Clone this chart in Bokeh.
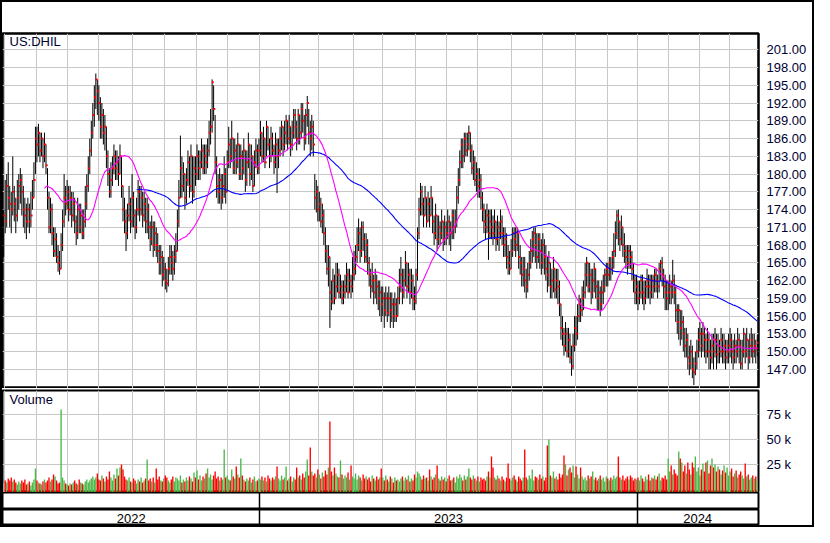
import numpy as np
import pandas as pd
from bokeh.plotting import figure
from bokeh.layouts import column
from bokeh.models import Range1d, FixedTicker, NumeralTickFormatter, Label, ColumnDataSource
from bokeh.core.properties import value
from bokeh.embed import file_html
from bokeh.resources import INLINE

# ---------------- data ----------------
title_line1 = "Historic Chart for US:DHIL by Stockwatch.com 604.687.1500 - (c) 2024"
title_line2 = ("Fri Apr 26 2024   Op=150.40   Hi=152.79   Lo=149.20   Cl=151.49   "
               "Vol=8,322   Year hi=197.00   lo=144.345")
symbol = "US:DHIL"

# trading days per month, Apr 2022 (last day) .. Apr 2024
bars_per_month = [1, 21, 21, 20, 23, 21, 21, 21, 21,
                  20, 19, 23, 19, 22, 21, 20, 23, 20, 22, 21, 20,
                  21, 20, 20, 19]
year_labels = ["2022", "2023", "2024"]

price_ticks = [147, 150, 153, 156, 159, 162, 165, 168, 171, 174, 177, 180, 183,
               186, 189, 192, 195, 198, 201]
vol_ticks = [25000, 50000, 75000]
vol_tick_labels = ["25 k", "50 k", "75 k"]

close_2022 = [
    173, 172, 178, 176, 175, 174, 177, 175, 173, 176,
    178, 179, 177, 174, 173, 172, 174, 172, 173, 176,
    179, 186, 185, 187, 184, 186, 183, 185, 181.5, 176,
    171, 174, 170, 167, 169, 166, 165, 164, 168, 172,
    176, 175, 177, 174, 176, 173, 175, 172, 170, 174,
    171, 173, 170, 172, 175, 178, 181, 184, 187, 190,
    193, 196, 194, 192, 188, 190, 187, 188, 183, 180,
    177, 179, 181, 183, 181, 182, 180, 183, 178, 174,
    172, 170, 173, 175, 172, 176, 173, 171, 174, 177,
    174, 176, 173, 175, 172, 174, 171, 169, 171, 168,
    170, 168, 167, 165, 166, 163, 164, 162, 161.5, 164,
    166, 165, 164, 166, 167, 172, 176, 181, 178, 180,
    176, 179, 182, 178, 183, 177, 181, 180, 183, 181,
    182, 184, 181, 183, 182, 184, 187, 188, 195.5, 191,
    182, 178, 177, 179, 176, 178, 180, 177, 182, 185,
    183, 186, 181, 184, 182, 185, 180, 183, 181, 184,
    179, 182, 185, 180, 183, 178, 182, 184, 181, 184]
hi_2022 = [
    174, 179, 180, 182, 178, 177, 183, 178, 176, 179,
    180, 181, 180, 178, 176, 175, 176, 175, 177, 179,
    182, 188, 188, 188.5, 187, 187, 186, 187, 185, 181,
    177, 176, 175, 171, 171, 170, 168, 167, 170, 174,
    180, 178, 179, 178, 178, 177, 177, 176, 173, 176,
    175, 175, 174, 174, 178, 180, 183, 186, 189, 192,
    195, 197, 196, 195, 193, 192, 191, 190, 188, 184,
    181, 182, 183, 185, 184, 184, 183, 185, 183, 178,
    176, 174, 175, 178, 176, 180, 177, 174, 176, 179,
    178, 178, 177, 177, 176, 176, 175, 172, 173, 172,
    172, 171, 170, 168, 168, 167, 166, 165, 164, 166,
    168, 168, 167, 168, 170, 174, 179, 186.5, 183, 182,
    180, 181, 184, 183, 185, 183, 183, 183, 185, 184,
    184, 186, 185, 185, 185, 186, 189, 191, 196, 195,
    190, 183, 180, 181, 180, 180, 183, 181, 184, 188,
    186, 189, 186, 186, 185, 187, 185, 185, 184, 186,
    184, 184, 187, 185, 185, 183, 184, 186, 185, 186]
lo_2022 = [
    166, 170, 171, 174, 171, 170, 173, 172, 170, 172,
    174, 175, 173, 171, 170, 169, 171, 170, 171, 174,
    176, 180, 182, 183, 182, 183, 181, 182, 180, 174,
    170, 170, 168, 166, 166, 165, 163.5, 163, 164, 167,
    171, 173, 174, 172, 173, 171, 172, 170, 168, 169,
    170, 170, 169, 169, 171, 174, 177, 180, 183, 186,
    188, 191, 190, 189, 186, 186, 185, 184, 181, 178,
    176, 176, 178, 180, 179, 179, 178, 180, 176, 172,
    170, 167, 169, 172, 170, 171, 171, 169, 170, 173,
    172, 173, 171, 172, 170, 170, 169, 167, 168, 166,
    167, 166, 165, 163, 163, 161, 162, 160.5, 160, 161,
    163, 163, 162, 163, 165, 167, 171, 176, 176, 177,
    174, 175, 178, 176, 177, 175, 176, 178, 179, 179,
    179, 181, 180, 180, 180, 181, 183, 185, 187, 189,
    180, 176, 175, 175, 174, 175, 176, 175, 177, 181,
    181, 182, 180, 180, 180, 181, 179, 179, 179, 180,
    177, 178, 181, 178, 179, 177, 178, 181, 180, 180]

close_2023 = [
    187, 183, 186, 182, 188, 185, 183, 186, 184, 182,
    185, 183, 184, 186, 188, 185, 187, 189, 186, 188,
    185, 187, 190, 188, 186, 190, 187, 191, 189, 186,
    190, 192, 187, 186, 188, 185, 176, 177, 174, 175,
    172, 173, 170, 167, 164, 166, 160, 158.5, 162, 159,
    161, 163, 160, 161, 159, 160, 161, 163, 160, 162,
    161, 163, 164, 166, 168, 170, 167, 171, 169, 166,
    168, 165, 163, 161, 162, 160, 162, 161, 159, 160,
    158, 159, 157, 159, 156.5, 159, 157, 158, 156, 158,
    156, 159, 161, 163, 160, 162, 165, 161, 163, 160,
    162, 159, 158.5, 163, 170, 174, 177, 175, 173, 176,
    172, 175, 173, 176, 172, 170, 173, 169, 171, 170,
    172, 169, 171, 170, 172, 171, 170, 173, 171, 172,
    176, 179, 182, 185, 183, 186, 184, 185, 187, 184,
    181, 182, 179, 180, 178, 179, 176, 174, 172, 171,
    173, 170, 172, 171, 170, 172, 169, 171, 170, 172,
    170, 168, 169, 166, 165, 164, 167, 170, 169, 168,
    170, 166, 165, 163, 164, 162, 161, 163, 165, 167,
    169, 170, 168, 166, 169, 167, 165, 168, 166, 164,
    163, 165, 161, 162, 164, 160.5, 162, 161, 158, 154,
    153, 151, 153, 150, 152, 149, 147.5, 151, 154, 153,
    156, 158, 157, 159, 160, 163, 165, 161, 163, 160,
    162, 164, 161, 159, 160, 158, 160, 161, 163, 164,
    163, 165, 164, 166, 167, 170, 173, 172, 169, 171,
    168, 167, 166, 165, 167, 166, 164, 162, 160, 161]
hi_2023 = [
    189, 187, 188, 186, 189, 188, 186, 188, 187, 185,
    187, 186, 186, 188, 189, 188, 189, 190, 189, 190,
    188, 189, 191, 191, 189, 191, 190, 192, 192, 190,
    191, 193.2, 191, 189, 190, 189, 180, 179, 178, 177,
    176, 175, 174, 171, 168, 168, 166, 162, 164, 163,
    165, 165, 164, 163, 162, 162, 163, 165, 164, 164,
    163, 166, 167, 168, 171, 172.5, 171, 172, 172, 170,
    170, 169, 166, 164, 165, 163, 164, 163, 162, 162,
    161, 161, 160, 161, 160, 161, 160, 160, 159, 160,
    159, 161, 164, 166, 164, 164, 167, 165, 165, 164,
    164, 163, 161, 164, 171, 176, 178.5, 178, 176, 178,
    176, 177, 176, 178, 176, 173, 175, 173, 173, 172,
    174, 172, 173, 172, 174, 173, 172, 174, 174, 174,
    178, 181, 184, 186, 186, 187, 187, 187, 188.2, 187,
    185, 184, 183, 182, 181, 181, 180, 177, 175, 174,
    175, 174, 174, 174, 173, 174, 172, 173, 172, 174,
    173, 171, 171, 170, 168, 167, 169, 171, 171, 171,
    171, 170, 168, 166, 166, 166, 164, 165, 167, 169,
    170.4, 171, 171, 170, 170, 170, 169, 170, 169, 168,
    166, 167, 165, 164, 166, 164, 164, 164, 162, 158,
    156, 154, 155, 154, 154, 153, 151, 153, 156, 156,
    158, 159.6, 159, 161, 162, 165, 166, 165, 165, 164,
    164, 165, 164, 162, 162, 161, 162, 163, 164, 165,
    165, 166, 166, 167, 170, 172, 173.9, 174, 172, 173,
    171, 170, 168, 168, 168, 168, 167, 165, 163, 163]
lo_2023 = [
    183, 182, 182, 181, 183, 184, 181, 182, 183, 180,
    181, 176.8, 181, 183, 184, 183, 184, 185, 184, 185,
    183, 184, 186, 186, 184, 185, 185, 186, 187, 184,
    185, 188, 185, 183, 184, 183, 174, 173.5, 172, 172,
    171, 170, 168, 165, 163, 161, 154, 157, 158, 158,
    159, 160, 159, 159, 158, 158, 159, 160, 159, 160,
    159, 160, 162, 163, 165, 167, 165, 166, 167, 165,
    165, 163, 161, 159, 160, 158, 159, 158, 157, 156,
    155, 156, 154, 156, 155, 156, 154, 155, 154, 155,
    155, 156, 158, 160, 158, 159, 161, 159, 160, 158,
    159, 157, 157, 158, 162, 169, 173, 173, 171, 173,
    171, 172, 171, 173, 170, 168, 169, 167, 168, 168,
    169, 167, 168, 168, 169, 168, 167, 169, 169, 170,
    171, 175, 178, 181, 181, 182, 183, 183, 184, 182,
    180, 179, 178, 177, 176, 176, 174, 172, 170, 169,
    170, 165.5, 169, 169, 168, 169, 167, 168, 167, 169,
    168, 166, 166, 164, 163, 163, 164, 166, 167, 166,
    167, 164, 163, 161, 161, 160, 159, 160, 162, 164,
    165, 166, 165, 164, 165, 164, 163, 164, 163, 162,
    160, 161, 159, 159, 160, 159, 159, 158, 156, 152,
    151, 149.3, 150, 149, 149, 148, 145.9, 147, 150, 151,
    152, 155, 155, 156, 157, 159, 161, 160, 160, 158,
    159, 160, 159, 157, 157, 156, 157, 158, 160, 161,
    161, 162, 162, 163, 164, 166, 169, 168, 167, 168,
    166, 165, 164, 163, 164, 164, 162, 160, 158, 158]

close_2024 = [
    159, 160, 162, 160, 159, 161, 162, 161, 160, 162,
    161, 163, 162, 161, 164, 165, 163, 161, 160, 159,
    160, 161, 160, 162, 160, 157, 155, 157, 154, 155,
    153, 151, 152, 149, 148, 150, 147, 146.5, 148, 150,
    152, 153, 151, 153, 152, 150, 152, 150, 149, 151,
    150, 152, 149.5, 151, 150, 152, 150, 151, 149, 150,
    151, 152, 150, 149, 151, 150, 152, 151, 148, 150,
    153, 150, 152, 149, 151, 152, 150, 151, 150.5, 151.49]
hi_2024 = [
    162, 162, 163, 163, 162, 162, 164, 163, 163, 163,
    163, 164, 164, 163, 165, 165.5, 166, 164, 163, 162,
    162, 163, 162, 165.5, 163, 161, 158, 158, 157, 157,
    156, 154, 154, 153, 151, 152, 151, 149, 150, 152,
    154, 155, 154, 155, 154, 153, 154, 153, 152, 153,
    153, 154, 153, 153, 152, 154, 153, 153, 152, 152,
    153, 154, 153, 152, 153, 152, 154, 153, 152, 152,
    154, 153, 154, 152, 153, 154, 153, 153, 152, 152.79]
lo_2024 = [
    157, 158, 159, 158, 157, 158, 159, 159, 158, 159,
    159, 160, 160, 159, 160, 162, 161, 159, 157, 157,
    157, 158, 158, 159, 158, 155, 153, 152, 151, 152,
    150, 149, 149, 147, 146, 147, 145.5, 144.345, 146, 147,
    149, 150, 149, 150, 149, 148, 149, 147, 147, 148,
    147, 149, 147, 148, 148, 149, 148, 148, 147, 148,
    148, 149, 148, 147, 148, 148, 149, 148, 147, 147,
    149, 148, 149, 147, 148, 149, 148, 149, 148, 149.2]

# volume in thousands of shares
vol_2022 = [
    6, 9, 7, 11, 9, 12, 8, 10, 7, 5, 8, 6, 9, 7, 10, 5, 6, 8, 4, 7, 10,
    21,
    9, 7, 6, 5, 8, 10, 7, 9, 12, 8, 10, 15, 13, 9, 6, 7,
    80,
    12, 9, 6, 5, 4, 6, 5, 7, 9, 6, 5, 10, 7, 6, 5, 8, 10, 7, 9, 11, 13, 10,
    12, 16, 10, 9, 14, 11, 8, 13, 10, 18, 12, 9, 15, 11, 21, 14, 22, 25, 20, 13,
    10, 9, 12, 8, 7, 11, 9, 6, 10, 8, 12, 7, 9, 11,
    30,
    9, 11, 8, 12, 7, 21, 10, 13, 9, 8, 11, 14, 12, 9, 7, 10, 13, 8, 12, 11,
    9, 14, 7, 10, 8, 12, 9, 13, 11, 8, 17, 12, 19, 10, 14, 9, 13, 11, 16, 21,
    12, 15, 10, 14, 18, 11, 13, 9, 12, 10,
    40,
    12, 14, 10, 9, 20, 13, 11, 23, 15, 12, 31, 14, 10, 8, 11, 9, 12, 7, 10, 13,
    8, 9, 11]
vol_2023 = [
    10, 13, 9, 12, 8, 14, 11, 9, 12, 10, 13,
    23,
    11, 9, 14, 10, 12, 23, 9, 11, 13, 8, 12, 10,
    22,
    12, 14, 10, 16, 12, 18,
    30, 14, 42,
    18, 14, 16, 12, 20, 15, 11, 17, 13, 19, 15, 22,
    68,
    18, 14, 22, 16, 13, 12,
    29,
    15, 11, 14, 12, 17, 10,
    24,
    13, 11, 16, 10, 14, 12, 9, 15, 11, 13, 10, 12, 8, 14, 11, 9, 13, 10, 12,
    21,
    12, 9, 14, 10, 8, 13, 11, 7, 12, 9, 10, 8, 11, 13, 9, 12, 10, 14, 8, 11,
    9, 15, 12, 18, 16, 13, 10, 14, 11, 12, 9,
    20,
    13, 10, 12, 15,
    24,
    11, 9, 13, 10, 12, 8, 11, 14, 9, 10, 12, 7, 13, 11, 15, 12, 9, 14, 10, 13,
    21,
    12, 10, 14, 11, 9, 13, 8, 12, 10, 11, 9, 13, 18, 12,
    33,
    22, 12, 10, 14, 11, 9, 13, 10, 8, 12,
    26,
    11, 9, 12, 14, 10, 8, 13, 11, 9, 12,
    40,
    12, 10, 14, 11, 20, 9, 13, 12, 10, 15, 11, 13, 9, 12,
    44, 50,
    14, 12, 18, 11, 13, 10, 16, 12, 15,
    34, 25,
    14, 20, 22, 17, 24, 12, 23, 15, 11, 22, 13, 10, 12, 9, 14, 11, 13, 18, 10, 12,
    9, 11, 14, 10, 12, 8, 13, 11, 9, 12, 10, 14, 11, 13,
    33,
    12, 10, 14, 9, 11, 13, 10, 14, 12, 9, 11, 10]
vol_2024 = [
    12, 9, 14, 11, 8, 13, 10, 15, 9, 12, 11, 14, 10, 13, 16, 9, 12, 11, 14, 10,
    31,
    18, 24, 15, 20, 16, 14,
    38, 31, 27,
    18, 24, 16, 27, 20, 15, 27, 22,
    33,
    18, 22, 14, 20, 26, 18, 27, 29, 16, 24, 31, 22, 25, 18, 23, 20, 15, 19, 24, 17,
    22, 14, 18, 21, 13, 16, 19, 12, 15, 18, 14, 11, 26, 13, 15, 10, 12, 14, 11, 13,
    8.322]

FAST_MA = 28
SLOW_MA = 89

# ---------------- derived ----------------
close = np.array(close_2022 + close_2023 + close_2024, dtype=float)
high = np.array(hi_2022 + hi_2023 + hi_2024, dtype=float)
low = np.array(lo_2022 + lo_2023 + lo_2024, dtype=float)
vol = np.array(vol_2022 + vol_2023 + vol_2024, dtype=float) * 1000.0
n = len(close)
assert len(high) == n and len(low) == n and len(vol) == n == sum(bars_per_month)
idx = np.arange(n, dtype=float)

GREEN, RED, GRAY = "#4cb848", "#ff0000", "#a8a8a8"
chg = np.diff(close, prepend=np.nan)
vcolor = np.where(chg > 0, GREEN, np.where(chg < 0, RED, GRAY))

ma_fast = pd.Series(close).rolling(FAST_MA).mean().to_numpy()
ma_slow = pd.Series(close).rolling(SLOW_MA).mean().to_numpy()

month_starts = np.cumsum([0] + bars_per_month[:-1])
month_lines = [float(s) - 0.5 for s in month_starts[1:]]
year_sizes = [len(close_2022), len(close_2023), len(close_2024)]
year_edges = np.cumsum([0] + year_sizes)
year_lines = [float(e) - 0.5 for e in year_edges[1:-1]]
year_centers = [(year_edges[k] + year_edges[k + 1]) / 2.0 - 0.5 for k in range(3)]

src = ColumnDataSource(dict(x=idx, xc=idx + 0.45, hi=high, lo=low, close=close,
                            vol=vol, color=vcolor))

FONT = "Liberation Sans"
LABEL_COLOR = "#000033"
GRID_COLOR = "#c8c8c8"
W = 810
RIGHT = 54
HEADER = 31
xr = Range1d(-0.8, n - 0.2)


def base_fig(height, y_range, y_axis=None, top=0):
    f = figure(width=W, height=height, x_range=xr, y_range=y_range,
               x_axis_location=None, y_axis_location=y_axis,
               toolbar_location=None, output_backend="svg",
               min_border_left=0, min_border_right=RIGHT,
               min_border_top=top, min_border_bottom=0)
    f.outline_line_color = "black"
    f.outline_line_width = 2
    f.background_fill_color = "white"
    f.border_fill_color = "white"
    return f


def style_axis(ax):
    ax.axis_line_color = None
    ax.major_tick_line_color = None
    ax.minor_tick_line_color = None
    ax.major_tick_out = 0
    ax.major_tick_in = 0
    ax.major_label_standoff = 8
    ax.major_label_text_font = FONT
    ax.major_label_text_font_size = "13px"
    ax.major_label_text_color = LABEL_COLOR


def keep_spaces(s):
    return s.replace(" ", "\u00a0")


# ---------------- price panel (header text drawn in its top border) ----------------
PH = 355 + HEADER
p = base_fig(PH, Range1d(143.76, 203.76), y_axis="right", top=HEADER)
p.outline_line_width = 2.5
style_axis(p.yaxis[0])
p.yaxis.ticker = FixedTicker(ticks=price_ticks)
p.yaxis.formatter = NumeralTickFormatter(format="0.00")
p.ygrid.grid_line_color = GRID_COLOR
p.xgrid.ticker = FixedTicker(ticks=month_lines)
p.xgrid.grid_line_color = GRID_COLOR

p.add_layout(Label(x=3, y=PH - 12, x_units="screen", y_units="screen",
                   text=keep_spaces(title_line1), text_font=FONT,
                   text_font_size="13.5px", text_color="black",
                   text_baseline="bottom"))
p.add_layout(Label(x=3, y=PH - 28, x_units="screen", y_units="screen",
                   text=keep_spaces(title_line2), text_font=FONT,
                   text_font_size="13px", text_color="black",
                   text_baseline="bottom"))

p.segment(x0="x", y0="lo", x1="x", y1="hi", line_color="black", line_width=1.0, source=src)
p.scatter(x="xc", y="close", marker="square", size=2.0, fill_color="red",
          line_color=None, source=src)
p.line(idx, ma_slow, line_color="#0000ff", line_width=1.1)
p.line(idx, ma_fast, line_color="#ff00ff", line_width=1.1)
p.add_layout(Label(x=7, y=340, x_units="screen", y_units="screen", text=symbol,
                   text_font=FONT, text_font_size="13px", text_color=LABEL_COLOR))

# ---------------- volume panel ----------------
VMIN = -2900
v = base_fig(104, Range1d(VMIN, 99000), y_axis="right", top=2)
style_axis(v.yaxis[0])
v.yaxis.ticker = FixedTicker(ticks=vol_ticks)
v.yaxis.major_label_overrides = {float(t): s for t, s in zip(vol_ticks, vol_tick_labels)}
v.ygrid.grid_line_color = GRID_COLOR
v.xgrid.ticker = FixedTicker(ticks=month_lines)
v.xgrid.grid_line_color = GRID_COLOR
v.vbar(x="x", top="vol", bottom=VMIN, width=0.9, fill_color="color",
       line_color=None, source=src)
v.add_layout(Label(x=7, y=86, x_units="screen", y_units="screen", text="Volume",
                   text_font=FONT, text_font_size="13px", text_color=LABEL_COLOR))

# ---------------- date bands ----------------
band = base_fig(17, Range1d(0, 1))
band.ygrid.visible = False
band.xgrid.ticker = FixedTicker(ticks=year_lines)
band.xgrid.grid_line_color = "black"
band.xgrid.grid_line_width = 1.5

yb = base_fig(16, Range1d(0, 1))
yb.ygrid.visible = False
yb.xgrid.ticker = FixedTicker(ticks=year_lines)
yb.xgrid.grid_line_color = "black"
yb.xgrid.grid_line_width = 1.5
yb.text(x=year_centers, y=[0.45] * 3, text=year_labels, text_font=value(FONT),
        text_font_size="13px", text_align="center", text_baseline="middle",
        text_color="black")

layout = column(p, v, band, yb, spacing=0,
                styles={"border": "2px solid black", "box-sizing": "content-box"})

open("out.html", "w").write(file_html(layout, INLINE))
